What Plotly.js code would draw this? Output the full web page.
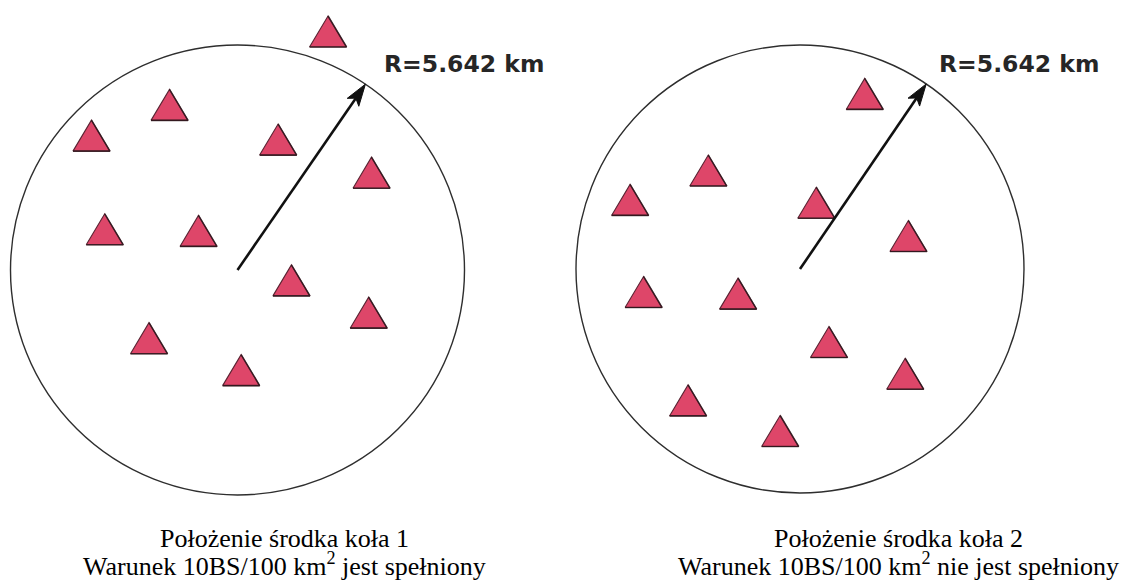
<!DOCTYPE html>
<html>
<head>
<meta charset="utf-8">
<script src="https://cdn.plot.ly/plotly-3.0.1.min.js"></script>
<style>
  html, body { margin: 0; padding: 0; background: #ffffff; }
  #chart { width: 1127px; height: 584px; }
</style>
</head>
<body>
<div id="chart"></div>
<script>
// ---------------- DATA (km, relative to each circle's centre) ----------------
const radiusKm = 5.642;
const radiusLabel = 'R=5.642 km';
const arrowAngleDeg = 55.7;

// circle 1: base stations (BS)
const bs1X = [2.25, -1.69, -3.63, 1.01, 3.33, -3.30, -0.97, 1.34, 3.26, -2.20, 0.09];
const bs1Y = [5.98, 4.14, 3.37, 3.27, 2.44, 1.02, 0.98, -0.26, -1.07, -1.71, -2.51];

// circle 2: base stations (BS)
const bs2X = [1.63, -2.31, -4.28, 0.41, 2.73, -3.94, -1.56, 0.73, 2.65, -2.82, -0.50];
const bs2Y = [4.41, 2.48, 1.74, 1.67, 0.83, -0.58, -0.62, -1.84, -2.64, -3.31, -4.08];

const caption1 = ['Położenie środka koła 1', 'Warunek 10BS/100 km<sup>2</sup> jest spełniony'];
const caption2 = ['Położenie środka koła 2', 'Warunek 10BS/100 km<sup>2</sup> nie jest spełniony'];

// ---------------- LAYOUT CONSTANTS (pixels) ----------------
const W = 1127, H = 584;
const panels = [
  { dom: [0, 0.5], cx: 237.5, cy: 270, rx: 227, ry: 225, labelX: 382, labelY: 64.5, capX: 284,
    bsX: bs1X, bsY: bs1Y, caption: caption1 },
  { dom: [0.5, 1], cx: 800, cy: 269, rx: 224, ry: 224, labelX: 937, labelY: 63.5, capX: 898,
    bsX: bs2X, bsY: bs2Y, caption: caption2 }
];
const triW = 37, triH = 31;          // triangle size, px
const headLen = 22, headWid = 14, headNotch = 5; // arrow head, px

const traces = [];
const shapes = [];
const annotations = [];
const layout = {
  width: W, height: H,
  margin: { l: 0, r: 0, t: 0, b: 0, pad: 0 },
  paper_bgcolor: '#ffffff', plot_bgcolor: '#ffffff',
  showlegend: false,
  shapes: shapes, annotations: annotations
};

panels.forEach((p, i) => {
  const sx = p.rx / radiusKm, sy = p.ry / radiusKm;   // px per km
  const xa = i === 0 ? 'x' : 'x2', ya = i === 0 ? 'y' : 'y2';
  const xKey = i === 0 ? 'xaxis' : 'xaxis2', yKey = i === 0 ? 'yaxis' : 'yaxis2';
  layout[xKey] = {
    domain: p.dom, visible: false, showgrid: false, zeroline: false, fixedrange: true,
    range: [(p.dom[0] * W - p.cx) / sx, (p.dom[1] * W - p.cx) / sx]
  };
  layout[yKey] = {
    domain: [0, 1], visible: false, showgrid: false, zeroline: false, fixedrange: true,
    range: [(p.cy - H) / sy, p.cy / sy]
  };

  // circle of radius R
  shapes.push({
    type: 'circle', xref: xa, yref: ya,
    x0: -radiusKm, x1: radiusKm, y0: -radiusKm, y1: radiusKm,
    line: { color: '#2e2e2e', width: 1.4 }, fillcolor: 'rgba(0,0,0,0)', layer: 'below'
  });

  // triangles (BS)
  const tw = triW / sx, th = triH / sy;
  const tx = [], ty = [];
  p.bsX.forEach((x, k) => {
    const y = p.bsY[k];
    tx.push(x - tw / 2, x + tw / 2, x, x - tw / 2, null);
    ty.push(y - th / 2, y - th / 2, y + th / 2, y - th / 2, null);
  });
  traces.push({
    type: 'scatter', mode: 'lines', xaxis: xa, yaxis: ya,
    x: tx, y: ty, fill: 'toself', fillcolor: '#de4669',
    line: { color: '#5a2433', width: 1.1 }, hoverinfo: 'skip'
  });
  // darker base edge (shadow)
  const bx = [], by = [];
  p.bsX.forEach((x, k) => {
    const y = p.bsY[k];
    bx.push(x - tw / 2, x + tw / 2, x, null);
    by.push(y - th / 2, y - th / 2, y + th / 2, null);
  });
  traces.push({
    type: 'scatter', mode: 'lines', xaxis: xa, yaxis: ya,
    x: bx, y: by, line: { color: 'rgba(40,20,25,0.75)', width: 1.6 }, hoverinfo: 'skip'
  });

  // radius arrow
  const th0 = arrowAngleDeg * Math.PI / 180;
  const tipX = radiusKm * Math.cos(th0), tipY = radiusKm * Math.sin(th0);
  // work in px-direction
  const ux = Math.cos(th0), uy = Math.sin(th0);
  const nx = -uy, ny = ux;
  const bX = tipX - headLen * ux / sx, bY = tipY - headLen * uy / sy;
  const notchX = bX + headNotch * ux / sx, notchY = bY + headNotch * uy / sy;
  traces.push({
    type: 'scatter', mode: 'lines', xaxis: xa, yaxis: ya,
    x: [0, notchX], y: [0, notchY],
    line: { color: '#111111', width: 2.6 }, hoverinfo: 'skip'
  });
  traces.push({
    type: 'scatter', mode: 'lines', xaxis: xa, yaxis: ya,
    x: [tipX, bX + headWid / 2 * nx / sx, notchX, bX - headWid / 2 * nx / sx, tipX],
    y: [tipY, bY + headWid / 2 * ny / sy, notchY, bY - headWid / 2 * ny / sy, tipY],
    fill: 'toself', fillcolor: '#111111',
    line: { color: '#111111', width: 1 }, hoverinfo: 'skip'
  });

  // radius label
  annotations.push({
    xref: 'paper', yref: 'paper', x: p.labelX / W, y: 1 - p.labelY / H,
    xanchor: 'left', yanchor: 'middle', showarrow: false,
    text: radiusLabel,
    font: { family: 'DejaVu Sans', size: 23.5, weight: 'bold', color: '#262626' }
  });

  // captions
  const capBottoms = [554.6, 583.4];
  p.caption.forEach((t, k) => {
    annotations.push({
      xref: 'paper', yref: 'paper', x: p.capX / W, y: 1 - capBottoms[k] / H,
      xanchor: 'center', yanchor: 'bottom', showarrow: false,
      text: t,
      font: { family: 'Liberation Serif', size: 26, color: '#000000' }
    });
  });
});

Plotly.newPlot('chart', traces, layout, { staticPlot: true, displayModeBar: false });
</script>
</body>
</html>
